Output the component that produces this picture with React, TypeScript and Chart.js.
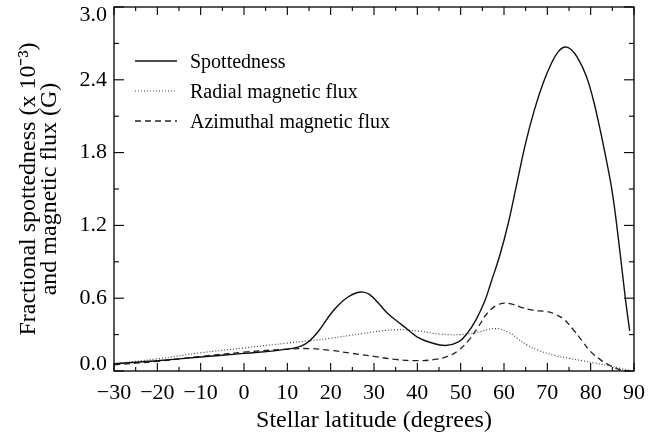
import React, { useEffect, useRef } from 'react';
import { Chart, registerables } from 'chart.js';

Chart.register(...registerables);

// ---- Data ----
const spotLat = [-30, -20, -10, 0, 10, 14, 17, 20, 22, 24, 26, 27.5, 29, 31, 33, 35, 37.5, 40, 43, 46.5, 49.5, 51.5, 53.5, 55.5, 57, 59, 61, 63, 65, 67, 69, 71, 72.5, 74, 75.5, 77, 79, 80.5, 82, 83.5, 85, 86.5, 88, 89];
const spotVal = [0.06, 0.085, 0.115, 0.145, 0.18, 0.22, 0.32, 0.47, 0.55, 0.61, 0.645, 0.65, 0.63, 0.56, 0.48, 0.42, 0.35, 0.28, 0.235, 0.21, 0.24, 0.31, 0.42, 0.57, 0.73, 0.95, 1.22, 1.55, 1.88, 2.15, 2.37, 2.54, 2.63, 2.67, 2.65, 2.58, 2.43, 2.25, 2.02, 1.76, 1.47, 1.06, 0.6, 0.33];

const radLat = [-30, -20, -10, 0, 10, 20, 27.5, 35, 40, 45, 50, 54, 58, 61, 63, 65.5, 68, 71.5, 75, 78, 81, 84, 87, 89];
const radVal = [0.06, 0.1, 0.15, 0.19, 0.23, 0.27, 0.31, 0.34, 0.33, 0.305, 0.3, 0.32, 0.35, 0.32, 0.27, 0.21, 0.17, 0.13, 0.105, 0.085, 0.065, 0.045, 0.02, 0.005];

const aziLat = [-30, -20, -10, 0, 10, 15, 20, 25, 30, 35, 40, 44, 47, 49.5, 52, 54, 56, 58, 60, 62, 64, 66, 68, 70, 72, 74, 76, 78, 80, 82, 84, 86, 88, 89];
const aziVal = [0.05, 0.08, 0.12, 0.155, 0.18, 0.185, 0.17, 0.145, 0.12, 0.095, 0.085, 0.095, 0.12, 0.17, 0.26, 0.36, 0.47, 0.535, 0.56, 0.55, 0.525, 0.505, 0.495, 0.49, 0.465, 0.42, 0.34, 0.25, 0.16, 0.1, 0.055, 0.02, 0.003, 0.0];

const xMin = -30;
const xMax = 90;
const xStep = 10;
const yMin = 0;
const yMax = 3.0;
const yStep = 0.6;

const legendLabels = ['Spottedness', 'Radial magnetic flux', 'Azimuthal magnetic flux'];
const xTitle = 'Stellar latitude (degrees)';
const yTitle = ['Fractional spottedness (x 10\u207B\u00B3)', 'and magnetic flux (G)'];

const FONT = '"Liberation Serif", "Times New Roman", Times, serif';

const styles = [
  { color: '#111', width: 1.4, dash: [] as number[] },
  { color: '#444', width: 1.2, dash: [1, 2] },
  { color: '#222', width: 1.3, dash: [6, 4] },
];

const framePlugin = {
  id: 'frameTicks',
  afterDatasetsDraw(chart: any) {
    const { ctx, chartArea: a, scales } = chart;
    const xs = scales.x;
    const ys = scales.y;
    ctx.save();
    ctx.strokeStyle = '#000';
    ctx.lineWidth = 1.3;
    ctx.setLineDash([]);
    ctx.strokeRect(a.left, a.top, a.right - a.left, a.bottom - a.top);

    const seg = (x1: number, y1: number, x2: number, y2: number) => {
      ctx.beginPath();
      ctx.moveTo(x1, y1);
      ctx.lineTo(x2, y2);
      ctx.stroke();
    };
    ctx.lineWidth = 1.1;

    // x ticks (major + minor), inward on bottom and top
    const xv = xs.ticks.map((t: any) => t.value);
    xv.forEach((v: number, i: number) => {
      const p = xs.getPixelForValue(v);
      seg(p, a.bottom, p, a.bottom - 8);
      seg(p, a.top, p, a.top + 8);
      if (i < xv.length - 1) {
        const m = xs.getPixelForValue((v + xv[i + 1]) / 2);
        seg(m, a.bottom, m, a.bottom - 4);
        seg(m, a.top, m, a.top + 4);
      }
    });

    // y ticks, inward on left and right
    const yv = ys.ticks.map((t: any) => t.value);
    yv.forEach((v: number, i: number) => {
      const p = ys.getPixelForValue(v);
      seg(a.left, p, a.left + 10, p);
      seg(a.right, p, a.right - 10, p);
      if (i < yv.length - 1) {
        const m = ys.getPixelForValue((v + yv[i + 1]) / 2);
        seg(a.left, m, a.left + 5, m);
        seg(a.right, m, a.right - 5, m);
      }
    });

    // y tick labels
    ctx.fillStyle = '#000';
    ctx.font = `22px ${FONT}`;
    ctx.textAlign = 'right';
    ctx.textBaseline = 'middle';
    yv.forEach((v: number) => {
      let p = ys.getPixelForValue(v);
      p = Math.min(Math.max(p, a.top + 8.5), a.bottom - 6.5);
      ctx.fillText(v.toFixed(1), a.left - 7, p);
    });

    // legend
    ctx.font = `20px ${FONT}`;
    ctx.textAlign = 'left';
    ctx.textBaseline = 'alphabetic';
    legendLabels.forEach((lab, i) => {
      const st = styles[i];
      const y = a.top + 54 + i * 30;
      ctx.strokeStyle = st.color;
      ctx.lineWidth = st.width;
      ctx.setLineDash(st.dash);
      seg(a.left + 21, y, a.left + 63, y);
      ctx.setLineDash([]);
      ctx.fillStyle = '#000';
      ctx.fillText(lab, a.left + 76, y + 7);
    });
    ctx.restore();
  },
};

export default function App() {
  const ref = useRef<HTMLCanvasElement | null>(null);

  useEffect(() => {
    const canvas = ref.current;
    if (!canvas) return;
    const mk = (xs: number[], ys: number[]) => xs.map((x, i) => ({ x, y: ys[i] }));
    const series = [mk(spotLat, spotVal), mk(radLat, radVal), mk(aziLat, aziVal)];
    const chart = new Chart(canvas, {
      type: 'line',
      data: {
        datasets: series.map((d, i) => ({
          label: legendLabels[i],
          data: d,
          borderColor: styles[i].color,
          borderWidth: styles[i].width,
          borderDash: styles[i].dash,
          pointRadius: 0,
          fill: false,
          tension: 0.4,
        })),
      },
      options: {
        responsive: false,
        animation: false,
        devicePixelRatio: 1,
        layout: { padding: { top: 7, right: 38, left: 0, bottom: 0 } },
        plugins: { legend: { display: false }, tooltip: { enabled: false } },
        scales: {
          x: {
            type: 'linear',
            min: xMin,
            max: xMax,
            grid: { display: false, drawTicks: false },
            border: { display: false },
            ticks: {
              stepSize: xStep,
              autoSkip: false,
              maxRotation: 0,
              padding: 9,
              color: '#000',
              font: { family: FONT, size: 22 },
              callback: (v: any) => (Number(v) < 0 ? '\u2212' + Math.abs(Number(v)) : String(v)),
            },
            title: {
              display: true,
              text: xTitle,
              color: '#000',
              font: { family: FONT, size: 24 },
              padding: { top: 0, bottom: 4 },
            },
            afterFit: (s: any) => {
              s.height = 68;
            },
          },
          y: {
            type: 'linear',
            min: yMin,
            max: yMax,
            grid: { display: false, drawTicks: false },
            border: { display: false },
            ticks: { stepSize: yStep, display: false },
            title: {
              display: true,
              text: yTitle,
              color: '#000',
              font: { family: FONT, size: 24, lineHeight: 0.875 },
              padding: { top: 18.5, bottom: 0 },
            },
            afterFit: (s: any) => {
              s.width = 114;
            },
          },
        },
      },
      plugins: [framePlugin],
    });
    return () => chart.destroy();
  }, []);

  return (
    <div style={{ position: 'fixed', left: 0, top: 0, width: 672, height: 439, background: '#fff' }}>
      <canvas ref={ref} width={672} height={439} style={{ display: 'block', width: 672, height: 439 }} />
    </div>
  );
}
